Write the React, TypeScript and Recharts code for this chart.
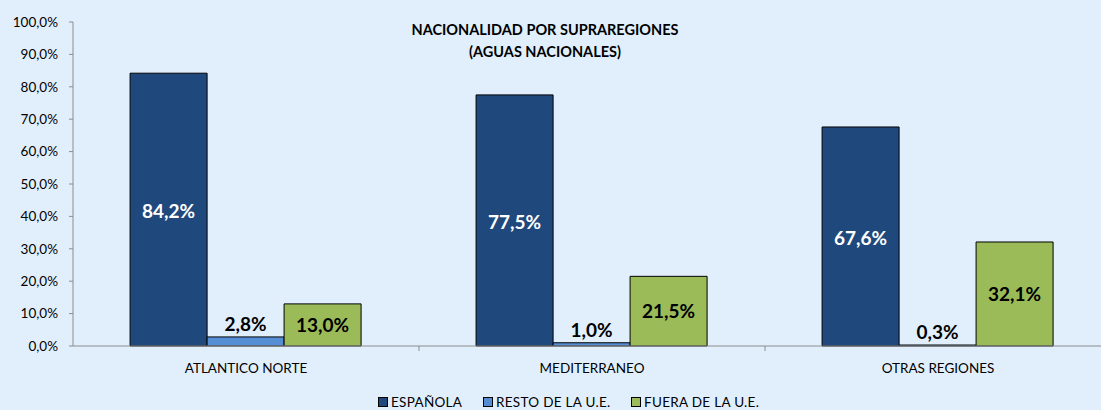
import React from 'react';
import { BarChart, Bar, XAxis, YAxis, Legend, LabelList } from 'recharts';

const regions = ['ATLANTICO NORTE', 'MEDITERRANEO', 'OTRAS REGIONES'];
const espanola = [84.2, 77.5, 67.6];
const restoUE = [2.8, 1.0, 0.3];
const fueraUE = [13.0, 21.5, 32.1];
const yTicks = [0, 10, 20, 30, 40, 50, 60, 70, 80, 90, 100];

const series = [
  { key: 'espanola', name: 'ESPAÑOLA', color: '#1F497D', width: 105 },
  { key: 'resto', name: 'RESTO DE LA U.E.', color: '#558ED5', width: 148 },
  { key: 'fuera', name: 'FUERA DE LA U.E.', color: '#9BBB59', width: 140 },
];

const data = regions.map((name, i) => ({
  name,
  espanola: espanola[i],
  resto: restoUE[i],
  fuera: fueraUE[i],
}));

const FONT = 'Lato, "Open Sans", sans-serif';
const pct = (v: any) => `${Number(v).toFixed(1).replace('.', ',')}%`;

const CategoryTick = (props: any) => {
  const { x, y, payload } = props;
  const half = payload.offset || 0;
  return (
    <g>
      <line x1={x + half} x2={x + half} y1={y} y2={y + 5} stroke="#8C8C8C" />
      <text x={x} y={y + 27} textAnchor="middle" fill="#000" fontSize={13.5} fontFamily={FONT}>
        {payload.value}
      </text>
    </g>
  );
};

const LegendContent = () => (
  <div style={{ display: 'flex', paddingLeft: 378, fontFamily: FONT, fontSize: 13.5, color: '#000', lineHeight: '14px' }}>
    {series.map((s) => (
      <span key={s.key} style={{ display: 'inline-flex', alignItems: 'center', width: s.width, whiteSpace: 'nowrap' }}>
        <span style={{ width: 8, height: 8, background: s.color, border: '1px solid #000', marginRight: 3, display: 'inline-block' }} />
        <span style={{ letterSpacing: 0.3 }}>{s.name}</span>
      </span>
    ))}
  </div>
);

export default function App() {
  return (
    <div style={{ position: 'absolute', left: 0, top: 0, width: 1101, height: 410, overflow: 'hidden', background: '#E1EFFD' }}>
      <div style={{ position: 'absolute', left: 345, width: 400, top: 19, textAlign: 'center', fontFamily: FONT, fontWeight: 'bold', fontSize: 14.5, lineHeight: '22px', color: '#000' }}>
        NACIONALIDAD POR SUPRAREGIONES
        <br />
        (AGUAS NACIONALES)
      </div>
      <BarChart
        width={1111}
        height={410}
        data={data}
        margin={{ top: 22, right: 0, left: 0, bottom: 0 }}
        barCategoryGap="16.5%"
        barGap={0}
      >
        <XAxis
          dataKey="name"
          axisLine={{ stroke: '#8C8C8C' }}
          tickLine={false}
          tickSize={0}
          tickMargin={0}
          height={44}
          tick={<CategoryTick />}
          interval={0}
        />
        <YAxis
          width={73}
          domain={[0, 100]}
          ticks={yTicks}
          tickFormatter={pct}
          axisLine={{ stroke: '#8C8C8C' }}
          tickLine={{ stroke: '#8C8C8C' }}
          tickSize={4}
          tickMargin={11}
          tick={{ fill: '#000', fontSize: 13.5, fontFamily: FONT }}
        />
        <Legend verticalAlign="bottom" content={<LegendContent />} wrapperStyle={{ height: 20, bottom: -5 }} />
        <Bar dataKey="espanola" name="ESPAÑOLA" fill="#1F497D" stroke="#000" strokeWidth={1} isAnimationActive={false}>
          <LabelList dataKey="espanola" position="center" offset={0} dy={2} formatter={pct} fill="#FFFFFF" fontSize={19} fontWeight="bold" fontFamily={FONT} />
        </Bar>
        <Bar dataKey="resto" name="RESTO DE LA U.E." fill="#558ED5" stroke="#000" strokeWidth={1} isAnimationActive={false}>
          <LabelList dataKey="resto" position="top" offset={6} formatter={pct} fill="#000" fontSize={19} fontWeight="bold" fontFamily={FONT} />
        </Bar>
        <Bar dataKey="fuera" name="FUERA DE LA U.E." fill="#9BBB59" stroke="#000" strokeWidth={1} isAnimationActive={false}>
          <LabelList dataKey="fuera" position="center" formatter={pct} fill="#000" fontSize={19} fontWeight="bold" fontFamily={FONT} />
        </Bar>
      </BarChart>
    </div>
  );
}
